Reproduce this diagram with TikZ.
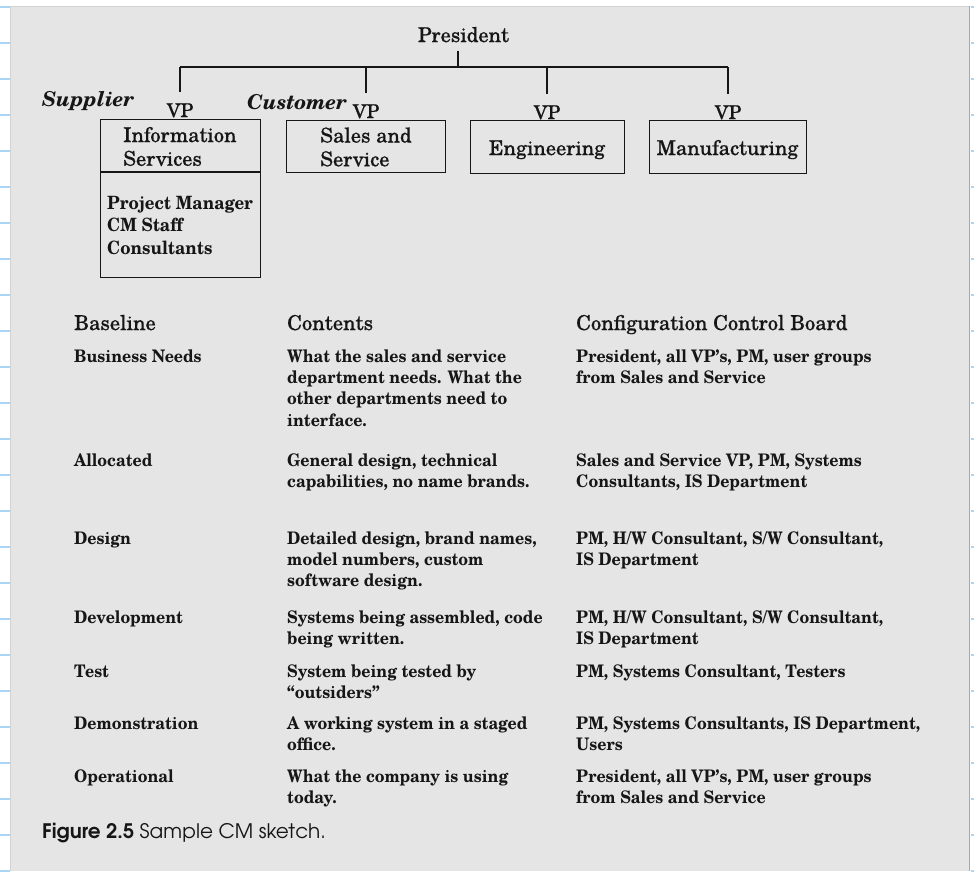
\documentclass[tikz,border=0pt]{standalone}
\usepackage{fontspec}
\setmainfont{texgyreschola}[Extension=.otf, Ligatures=TeX, UprightFont=*-regular, BoldFont=*-bold, ItalicFont=*-italic, BoldItalicFont=*-bolditalic]
\newfontfamily\printfont{texgyreschola}[Extension=.otf, Ligatures=TeX, UprightFont=*-regular, BoldFont=*-bold, FakeBold=0.6]
\newfontfamily\condfont{texgyreschola}[Extension=.otf, Ligatures=TeX, UprightFont=*-regular, BoldFont=*-bold, FakeStretch=0.92]
\newfontfamily\capfont{texgyreadventor}[Extension=.otf, Ligatures=TeX, UprightFont=*-regular, BoldFont=*-bold]
\newcommand\cellrows[1]{\begin{tabular}[t]{@{}l@{}}#1\end{tabular}}
\definecolor{inkc}{HTML}{161616}
\definecolor{panel}{HTML}{E5E5E5}
\definecolor{paneledge}{HTML}{A8A8A8}
\definecolor{panelrim}{HTML}{D2D2D2}
\definecolor{tickblue}{HTML}{A9D6F2}
\begin{document}
\begin{tikzpicture}[x=1pt,y=-1pt,
  ink/.style={draw=inkc, line width=1.3pt},
  boxst/.style={draw=inkc, line width=1.4pt, inner sep=0pt},
  orgtext/.style={inner sep=0pt, text=inkc, font=\printfont\fontsize{20.4}{23.7}\selectfont},
  vptext/.style={inner sep=0pt, text=inkc, font=\printfont\fontsize{19}{22}\selectfont},
  role/.style={inner sep=0pt, text=inkc, font=\bfseries\itshape\fontsize{20.5}{22}\selectfont},
  staff/.style={inner sep=0pt, text=inkc, anchor=base west, font=\condfont\bfseries\fontsize{18.3}{22.5}\selectfont},
  head/.style={inner sep=0pt, text=inkc, anchor=base west, font=\printfont\fontsize{20.5}{22}\selectfont},
  cell/.style={inner sep=0pt, text=inkc, anchor=base west, font=\condfont\bfseries\fontsize{17.3}{21.4}\selectfont},
  caption/.style={inner sep=0pt, text=inkc, anchor=base west, font=\capfont\fontsize{20}{24}\selectfont}]
\useasboundingbox (0,0) rectangle (974,871);

% page, grey panel and ruled margins
\fill[white] (0,0) rectangle (974,871);
\fill[panel] (10,6) rectangle (970,871);
\draw[panelrim, line width=1pt] (10.5,871) -- (10.5,6.5) -- (969,6.5);
\draw[paneledge, line width=1.6pt] (969.5,6) -- (969.5,871);
\foreach \k in {0,...,24} {
  \draw[tickblue, line width=1.6pt] (0,7+36*\k) -- (10,7+36*\k);
  \draw[tickblue, line width=1.6pt] (971,7+36*\k) -- (974,7+36*\k);
}

% organisation chart
\node[orgtext, anchor=base] (pres) at (463.5,42) {President};
\coordinate (presdrop) at (458,67);

\node[vptext, anchor=base] (vp1) at (180,117) {VP};
\node[vptext, anchor=base] (vp2) at (366,118) {VP};
\node[vptext, anchor=base] (vp3) at (547,119) {VP};
\node[vptext, anchor=base] (vp4) at (728,119) {VP};

\draw[ink, shorten <=8pt] (presdrop |- pres.south) -- (presdrop);
\draw[ink] (vp1.north |- presdrop) -- (vp4.north |- presdrop);
\foreach \v in {vp1,vp2,vp3,vp4}
  \draw[ink, shorten >=11pt] (\v.north |- presdrop) -- (\v.north);

\node[role, anchor=base west] (sup) at (42,106) {Supplier};
\node[role, anchor=base west] (cus) at (247,109) {Customer};

\node[boxst, minimum width=160pt, minimum height=158pt, anchor=north west] (is) at (100,119) {};
\draw[boxst] (is.west |- 0,172) -- (is.east |- 0,172);
\node[orgtext, anchor=base west] (isname) at (123,142) {\cellrows{Information\\Services}};
\node[staff] (isstaff) at (107,209) {\cellrows{Project Manager\\CM Staff\\Consultants}};

\node[boxst, minimum width=159pt, minimum height=52pt, anchor=north west] (ss) at (286,120) {};
\node[orgtext, anchor=base west] (ssname) at (320,142.5) {\cellrows{Sales and\\Service}};

\node[boxst, minimum width=154pt, minimum height=53pt, anchor=north west] (eng) at (470,120) {};
\node[orgtext, anchor=base] (engname) at (547,155) {Engineering};

\node[boxst, minimum width=157pt, minimum height=53pt, anchor=north west] (mfg) at (649,120) {};
\node[orgtext, anchor=base] (mfgname) at (727.5,155) {Manufacturing};

% baseline table
\node[head] (h1) at (74,330) {Baseline};
\node[head] (h2) at (287,330) {Contents};
\node[head] (h3) at (576,330) {Configuration Control Board};

\node[cell] (b1) at (74,362) {Business Needs};
\node[cell] (c1) at (287,362) {\cellrows{What the sales and service\\department needs.  What the\\other departments need to\\interface.}};
\node[cell] (r1) at (576,362) {\cellrows{President, all VP's, PM, user groups\\from Sales and Service}};

\node[cell] (b2) at (74,466) {Allocated};
\node[cell] (c2) at (287,466) {\cellrows{General design, technical\\capabilities, no name brands.}};
\node[cell] (r2) at (576,466) {\cellrows{Sales and Service VP, PM, Systems\\Consultants, IS Department}};

\node[cell] (b3) at (74,544) {Design};
\node[cell] (c3) at (287,544) {\cellrows{Detailed design, brand names,\\model numbers, custom\\software design.}};
\node[cell] (r3) at (576,544) {\cellrows{PM, H/W Consultant, S/W Consultant,\\IS Department}};

\node[cell] (b4) at (74,623) {Development};
\node[cell] (c4) at (287,623) {\cellrows{Systems being assembled, code\\being written.}};
\node[cell] (r4) at (576,623) {\cellrows{PM, H/W Consultant, S/W Consultant,\\IS Department}};

\node[cell] (b5) at (74,677) {Test};
\node[cell] (c5) at (287,677) {\cellrows{System being tested by\\``outsiders''}};
\node[cell] (r5) at (576,677) {PM, Systems Consultant, Testers};

\node[cell] (b6) at (74,729) {Demonstration};
\node[cell] (c6) at (287,729) {\cellrows{A working system in a staged\\office.}};
\node[cell] (r6) at (576,729) {\cellrows{PM, Systems Consultants, IS Department,\\Users}};

\node[cell] (b7) at (74,782) {Operational};
\node[cell] (c7) at (287,782) {\cellrows{What the company is using\\today.}};
\node[cell] (r7) at (576,782) {\cellrows{President, all VP's, PM, user groups\\from Sales and Service}};

\node[caption] (cap) at (42,838) {\textbf{Figure 2.5} Sample CM sketch.};
\end{tikzpicture}
\end{document}
